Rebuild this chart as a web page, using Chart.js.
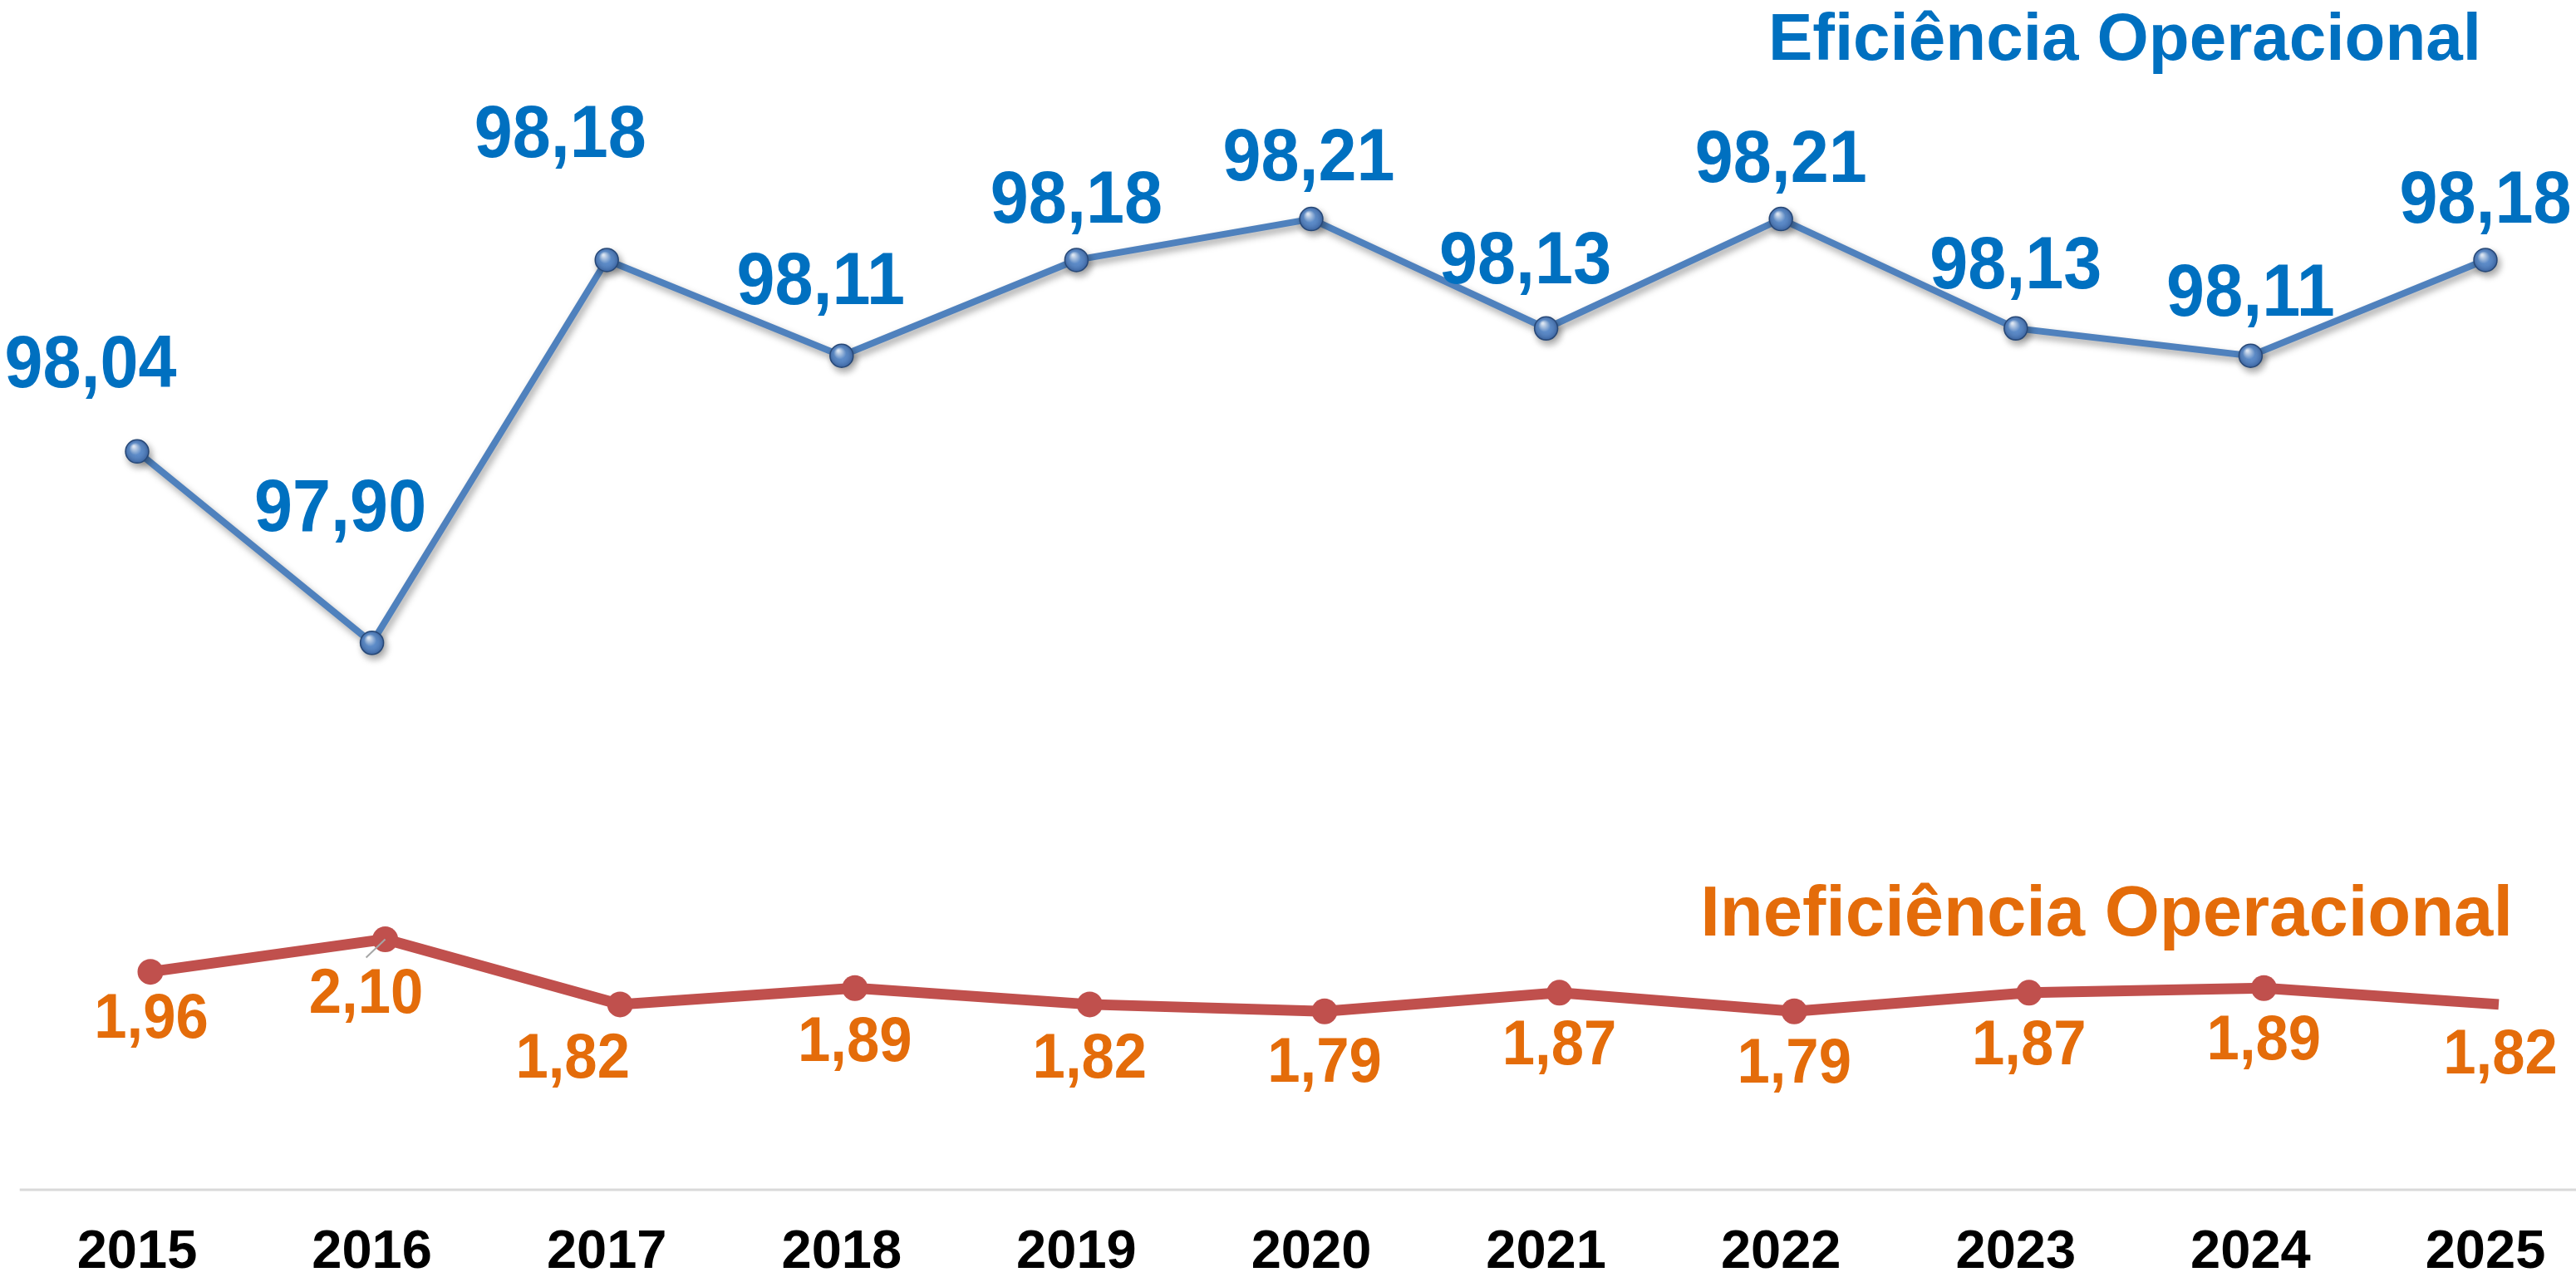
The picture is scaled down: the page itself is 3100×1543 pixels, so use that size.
<!DOCTYPE html>
<html>
<head>
<meta charset="utf-8">
<script src="https://cdn.jsdelivr.net/npm/chart.js@4"></script>
<style>
  body { margin: 0; background: #fff; }
  #wrap { width: 3100px; height: 1543px; position: relative; }
</style>
</head>
<body>
<div id="wrap"><canvas id="myChart"></canvas></div>
<script>
// data
const years = ["2015", "2016", "2017", "2018", "2019", "2020", "2021", "2022", "2023", "2024", "2025"];
const eficiencia = [98.04, 97.90, 98.18, 98.11, 98.18, 98.21, 98.13, 98.21, 98.13, 98.11, 98.18];
const ineficiencia = [1.96, 2.10, 1.82, 1.89, 1.82, 1.79, 1.87, 1.79, 1.87, 1.89, 1.82];

// where each value label sits, relative to its point
const blueLabelOffsets = [[-56,-102],[-38,-159],[-56,-148],[-25,-87],[0,-69],[-3,-71],[-25,-79],[0,-69],[0,-73],[0,-73],[0,-69]];
const redLabelOffsets = [[1,58],[-23,68],[-57,67],[0,67],[0,67],[0,64],[0,65],[0,65],[0,65],[0,65],[2,62]];
const redLeader = [false, true, false, false, false, false, false, false, false, false, false];

const FONT = '"Liberation Sans", Arial, sans-serif';
const fmt = (v) => v.toFixed(2).replace(".", ",");

// light grey base line, runs past the plot to the right edge
const baseLine = {
    id: "baseLine",
    beforeDatasetsDraw(chart) {
        const x = chart.scales.x;
        const half = (x.getPixelForValue(1) - x.getPixelForValue(0)) / 2;
        const ctx = chart.ctx;
        ctx.save();
        ctx.strokeStyle = "#D9D9D9";
        ctx.lineWidth = 3;
        ctx.beginPath();
        ctx.moveTo(x.getPixelForValue(0) - half, chart.chartArea.bottom);
        ctx.lineTo(chart.width, chart.chartArea.bottom);
        ctx.stroke();
        ctx.restore();
    }
};

// drop shadow on the blue line + glossy markers
const blueGloss = {
    id: "blueGloss",
    beforeDatasetDraw(chart, args) {
        if (args.index !== 0) return;
        const ctx = chart.ctx;
        ctx.save();
        ctx.shadowColor = "rgba(0,0,0,0.35)";
        ctx.shadowBlur = 9;
        ctx.shadowOffsetX = 3;
        ctx.shadowOffsetY = 5;
    },
    afterDatasetDraw(chart, args) {
        if (args.index !== 0) return;
        const ctx = chart.ctx;
        ctx.restore();
        const meta = chart.getDatasetMeta(0);
        meta.data.forEach((pt) => {
            const r = 14;
            const g = ctx.createRadialGradient(pt.x - 4, pt.y - 6, 1, pt.x, pt.y, r);
            g.addColorStop(0, "rgba(255,255,255,0.8)");
            g.addColorStop(0.5, "rgba(255,255,255,0.1)");
            g.addColorStop(1, "rgba(0,0,40,0.2)");
            ctx.beginPath();
            ctx.arc(pt.x, pt.y, r, 0, Math.PI * 2);
            ctx.fillStyle = g;
            ctx.fill();
        });
    }
};

// value labels (slightly condensed like the original)
const valueLabels = {
    id: "valueLabels",
    afterDatasetsDraw(chart) {
        const ctx = chart.ctx;
        const styles = [
            { values: eficiencia, offsets: blueLabelOffsets, color: "#0070C0", size: 89, sx: 0.93 },
            { values: ineficiencia, offsets: redLabelOffsets, color: "#E46C0A", size: 76, sx: 0.93, leader: redLeader }
        ];
        styles.forEach((st, di) => {
            const meta = chart.getDatasetMeta(di);
            meta.data.forEach((pt, i) => {
                const lx = pt.x + st.offsets[i][0];
                const ly = pt.y + st.offsets[i][1];
                ctx.save();
                if (st.leader && st.leader[i]) {
                    ctx.strokeStyle = "#A6A6A6";
                    ctx.lineWidth = 2;
                    ctx.beginPath();
                    ctx.moveTo(pt.x, pt.y);
                    ctx.lineTo(lx, ly - 46);
                    ctx.stroke();
                }
                ctx.translate(lx, ly);
                ctx.scale(st.sx, 1);
                ctx.font = "bold " + st.size + "px " + FONT;
                ctx.textAlign = "center";
                ctx.textBaseline = "middle";
                ctx.fillStyle = st.color;
                ctx.fillText(fmt(st.values[i]), 0, 0);
                ctx.restore();
            });
        });
    }
};

// series names
const seriesNames = {
    id: "seriesNames",
    afterDraw(chart) {
        const ctx = chart.ctx;
        ctx.save();
        ctx.textAlign = "right";
        ctx.textBaseline = "alphabetic";
        ctx.font = "bold 80px " + FONT;
        ctx.fillStyle = "#0070C0";
        ctx.fillText("Eficiência Operacional", 2986, 72);
        ctx.font = "bold 85px " + FONT;
        ctx.fillStyle = "#E46C0A";
        ctx.fillText("Ineficiência Operacional", 3024, 1126);
        ctx.restore();
    }
};

new Chart("myChart", {
    type: "line",
    data: {
        labels: years,
        datasets: [{
            data: eficiencia,
            xAxisID: "x",
            yAxisID: "y",
            borderColor: "#4F81BD",
            borderWidth: 8,
            pointRadius: 14,
            pointBackgroundColor: "#4A7EC2",
            pointBorderColor: "#2B4F7E",
            pointBorderWidth: 1.5,
            tension: 0,
            clip: false
        }, {
            data: ineficiencia.map((v, i) => ({ x: i, y: v })),
            xAxisID: "x2",
            yAxisID: "y2",
            borderColor: "#C0504D",
            borderWidth: 13,
            pointRadius: 15.5,
            pointBackgroundColor: "#C0504D",
            pointBorderWidth: 0,
            tension: 0,
            clip: false
        }]
    },
    options: {
        responsive: true,
        maintainAspectRatio: false,
        animation: false,
        events: [],
        layout: { padding: { left: 165, right: 109, top: 20, bottom: 0 } },
        plugins: {
            legend: { display: false },
            tooltip: { enabled: false }
        },
        scales: {
            x: {
                type: "category",
                offset: false,
                border: { display: false },
                grid: { drawOnChartArea: false, drawTicks: true, tickLength: 41, tickColor: "rgba(0,0,0,0)" },
                ticks: {
                    color: "#000",
                    padding: 2.5,
                    maxRotation: 0,
                    autoSkip: false,
                    font: { family: FONT, size: 65, weight: "bold", lineHeight: 1 }
                }
            },
            x2: { type: "linear", position: "bottom", display: false, min: -0.0566, max: 9.9434 },
            y: { display: false, min: 97.5, max: 98.358 },
            y2: { display: false, min: 1.0237, max: 6.063 }
        }
    },
    plugins: [baseLine, blueGloss, valueLabels, seriesNames]
});
</script>
</body>
</html>
